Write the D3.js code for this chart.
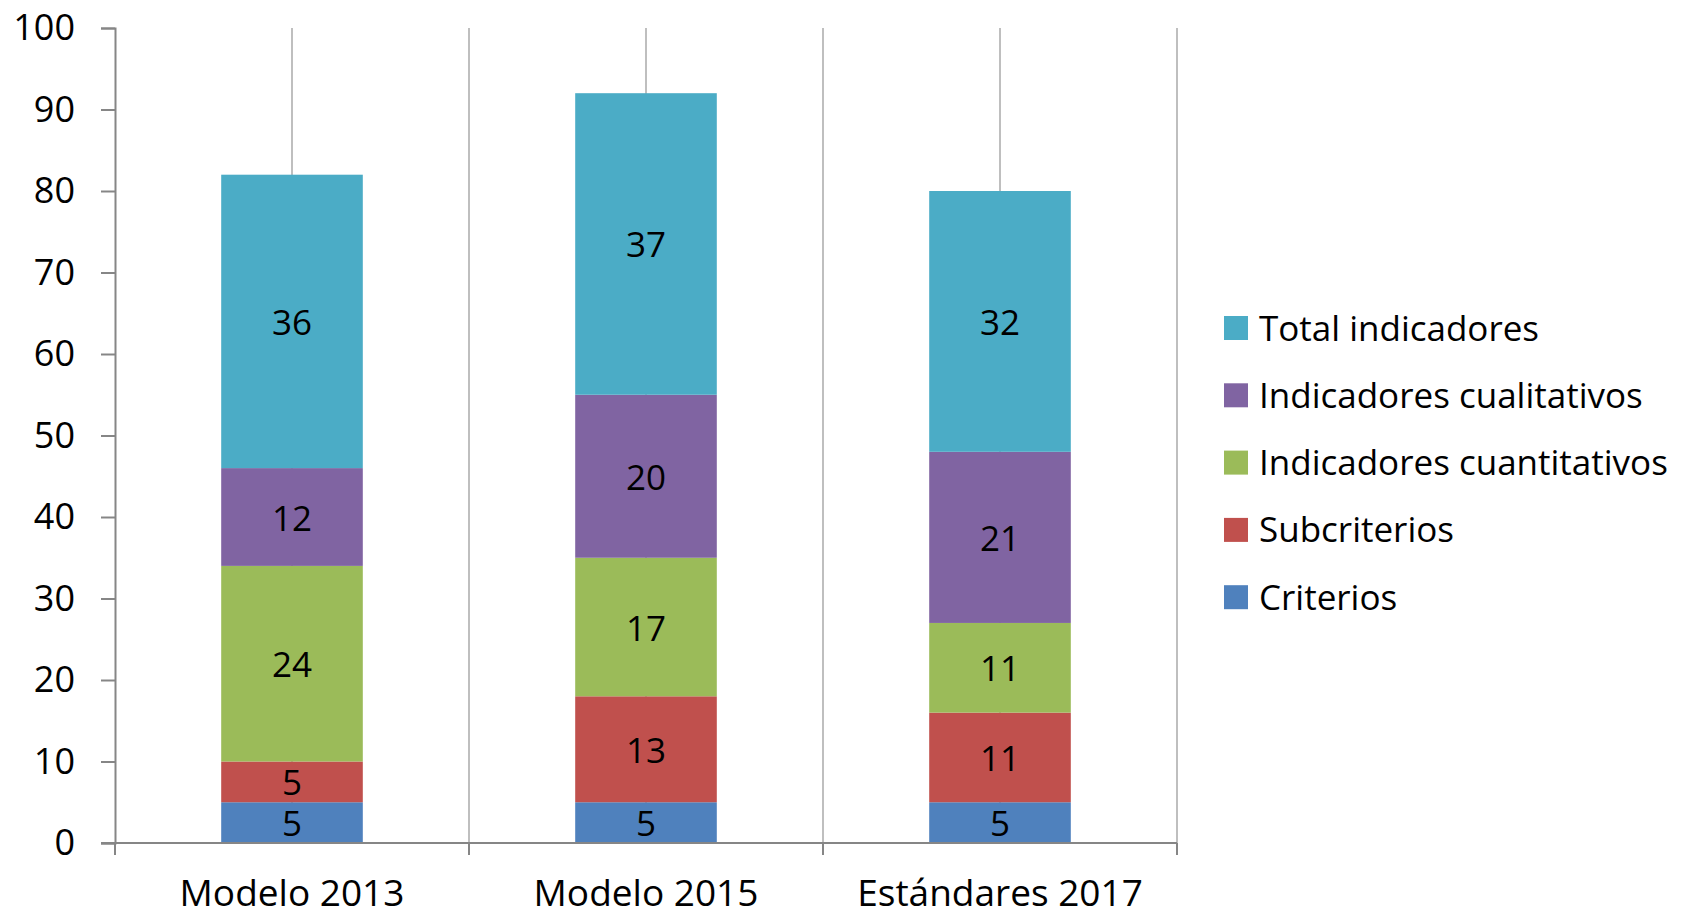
<!DOCTYPE html>
<html>
<head>
<meta charset="utf-8">
<script src="https://cdn.jsdelivr.net/npm/d3@7"></script>
<style>
    body { margin: 0; background: #ffffff; }
    svg { display: block; }
    text { font-family: "Open Sans", sans-serif; fill: #000000; }
    .tick text { font-size: 36px; }
    .value { font-size: 35px; }
    .legend text { font-size: 35px; }
</style>
</head>
<body>
<svg></svg>
<script>
// chart data
var categories = ["Modelo 2013", "Modelo 2015", "Estándares 2017"];
var seriesNames = ["Criterios", "Subcriterios", "Indicadores cuantitativos", "Indicadores cualitativos", "Total indicadores"];
var criterios = [5, 5, 5];
var subcriterios = [5, 13, 11];
var cuantitativos = [24, 17, 11];
var cualitativos = [12, 20, 21];
var totalIndicadores = [36, 37, 32];
var yTicks = [0, 10, 20, 30, 40, 50, 60, 70, 80, 90, 100];
var colors = ["#4F81BD", "#C0504D", "#9BBB59", "#8064A2", "#4BACC6"];

var makeTranslateString = function (x, y) {
    return "translate(" + x + "," + y + ")";
}

// builds one row per category, keyed by series name, for d3.stack
var buildTable = function () {
    var allSeries = [criterios, subcriterios, cuantitativos, cualitativos, totalIndicadores];
    return categories.map(function (cat, i) {
        var row = { cat: cat };
        seriesNames.forEach(function (name, s) {
            row[name] = allSeries[s][i];
        })
        return row;
    })
}

var drawGrid = function (target, xScale, yScale) {
    var step = xScale.step();
    var gridX = [];
    categories.forEach(function (cat, i) {
        gridX.push(xScale(cat) + xScale.bandwidth() / 2);
        gridX.push(xScale.range()[0] + step * (i + 1));
    })

    target.append("g")
        .selectAll("line")
        .data(gridX)
        .enter()
        .append("line")
        .attr("x1", function (d) { return d; })
        .attr("x2", function (d) { return d; })
        .attr("y1", yScale(100))
        .attr("y2", yScale(0))
        .attr("stroke", "#BFBFBF")
        .attr("stroke-width", 2)
}

var drawBars = function (target, table, xScale, yScale) {
    var stacked = d3.stack().keys(seriesNames)(table);

    var layers = target.selectAll("g.layer")
        .data(stacked)
        .enter()
        .append("g")
        .classed("layer", true)
        .attr("fill", function (d, i) { return colors[i]; })

    layers.selectAll("rect")
        .data(function (d) { return d; })
        .enter()
        .append("rect")
        .attr("x", function (d) { return xScale(d.data.cat); })
        .attr("width", xScale.bandwidth())
        .attr("y", function (d) { return yScale(d[1]); })
        .attr("height", function (d) { return yScale(d[0]) - yScale(d[1]); })

    layers.selectAll("text")
        .data(function (d) { return d; })
        .enter()
        .append("text")
        .classed("value", true)
        .attr("text-anchor", "middle")
        .attr("dominant-baseline", "central")
        .attr("x", function (d) { return xScale(d.data.cat) + xScale.bandwidth() / 2; })
        .attr("y", function (d) { return yScale((d[0] + d[1]) / 2); })
        .text(function (d) { return d[1] - d[0]; })
}

var drawAxes = function (target, graph, xScale, yScale) {
    var yAxis = d3.axisLeft(yScale)
        .tickValues(yTicks)
        .tickSize(14)
        .tickPadding(26)

    var yG = target.append("g").call(yAxis)
    yG.select(".domain").attr("stroke", "#868686").attr("stroke-width", 2)
    yG.selectAll(".tick line").attr("stroke", "#868686").attr("stroke-width", 2)

    // x axis: tick marks at category boundaries, labels under the centers
    var step = xScale.step();
    var boundaries = d3.range(categories.length + 1).map(function (i) {
        return xScale.range()[0] + step * i;
    })

    var xG = target.append("g")
    xG.append("line")
        .attr("x1", xScale.range()[0] - 14)
        .attr("x2", xScale.range()[1])
        .attr("y1", graph.height)
        .attr("y2", graph.height)
        .attr("stroke", "#868686")
        .attr("stroke-width", 2)
    xG.selectAll("line.btick")
        .data(boundaries)
        .enter()
        .append("line")
        .classed("btick", true)
        .attr("x1", function (d) { return d; })
        .attr("x2", function (d) { return d; })
        .attr("y1", graph.height)
        .attr("y2", graph.height + 12)
        .attr("stroke", "#868686")
        .attr("stroke-width", 2)
    xG.selectAll("text")
        .data(categories)
        .enter()
        .append("text")
        .attr("text-anchor", "middle")
        .attr("x", function (d) { return xScale(d) + xScale.bandwidth() / 2; })
        .attr("y", graph.height + 63)
        .style("font-size", "37px")
        .text(function (d) { return d; })
}

var drawLegend = function () {
    var legend = d3.select("svg")
        .append("g")
        .classed("legend", true)
        .attr("transform", makeTranslateString(1224, 328))

    var items = legend.selectAll("g")
        .data(seriesNames.slice().reverse())
        .enter()
        .append("g")
        .attr("transform", function (d, i) { return makeTranslateString(0, i * 67.3); })

    items.append("rect")
        .attr("x", 0)
        .attr("y", -12)
        .attr("width", 24)
        .attr("height", 24)
        .attr("fill", function (d) { return colors[seriesNames.indexOf(d)]; })

    items.append("text")
        .attr("x", 35)
        .attr("y", -1)
        .attr("dominant-baseline", "central")
        .text(function (d) { return d; })
}

var initGraph = function () {
    var screen = { width: 1699, height: 916 };
    var margins = { left: 115, right: 522, top: 28, bottom: 73 };
    var graph = {
        width: screen.width - margins.left - margins.right,
        height: screen.height - margins.top - margins.bottom
    }

    d3.select("svg")
        .attr("width", screen.width)
        .attr("height", screen.height)

    var target = d3.select("svg")
        .append("g")
        .attr("transform", makeTranslateString(margins.left, margins.top))

    var xScale = d3.scaleBand()
        .domain(categories)
        .range([0, graph.width])
        .paddingInner(0.6)
        .paddingOuter(0.3)

    var yScale = d3.scaleLinear()
        .domain([0, 100])
        .range([graph.height, 0])

    drawGrid(target, xScale, yScale);
    drawBars(target, buildTable(), xScale, yScale);
    drawAxes(target, graph, xScale, yScale);
    drawLegend();
}

initGraph();
</script>
</body>
</html>
